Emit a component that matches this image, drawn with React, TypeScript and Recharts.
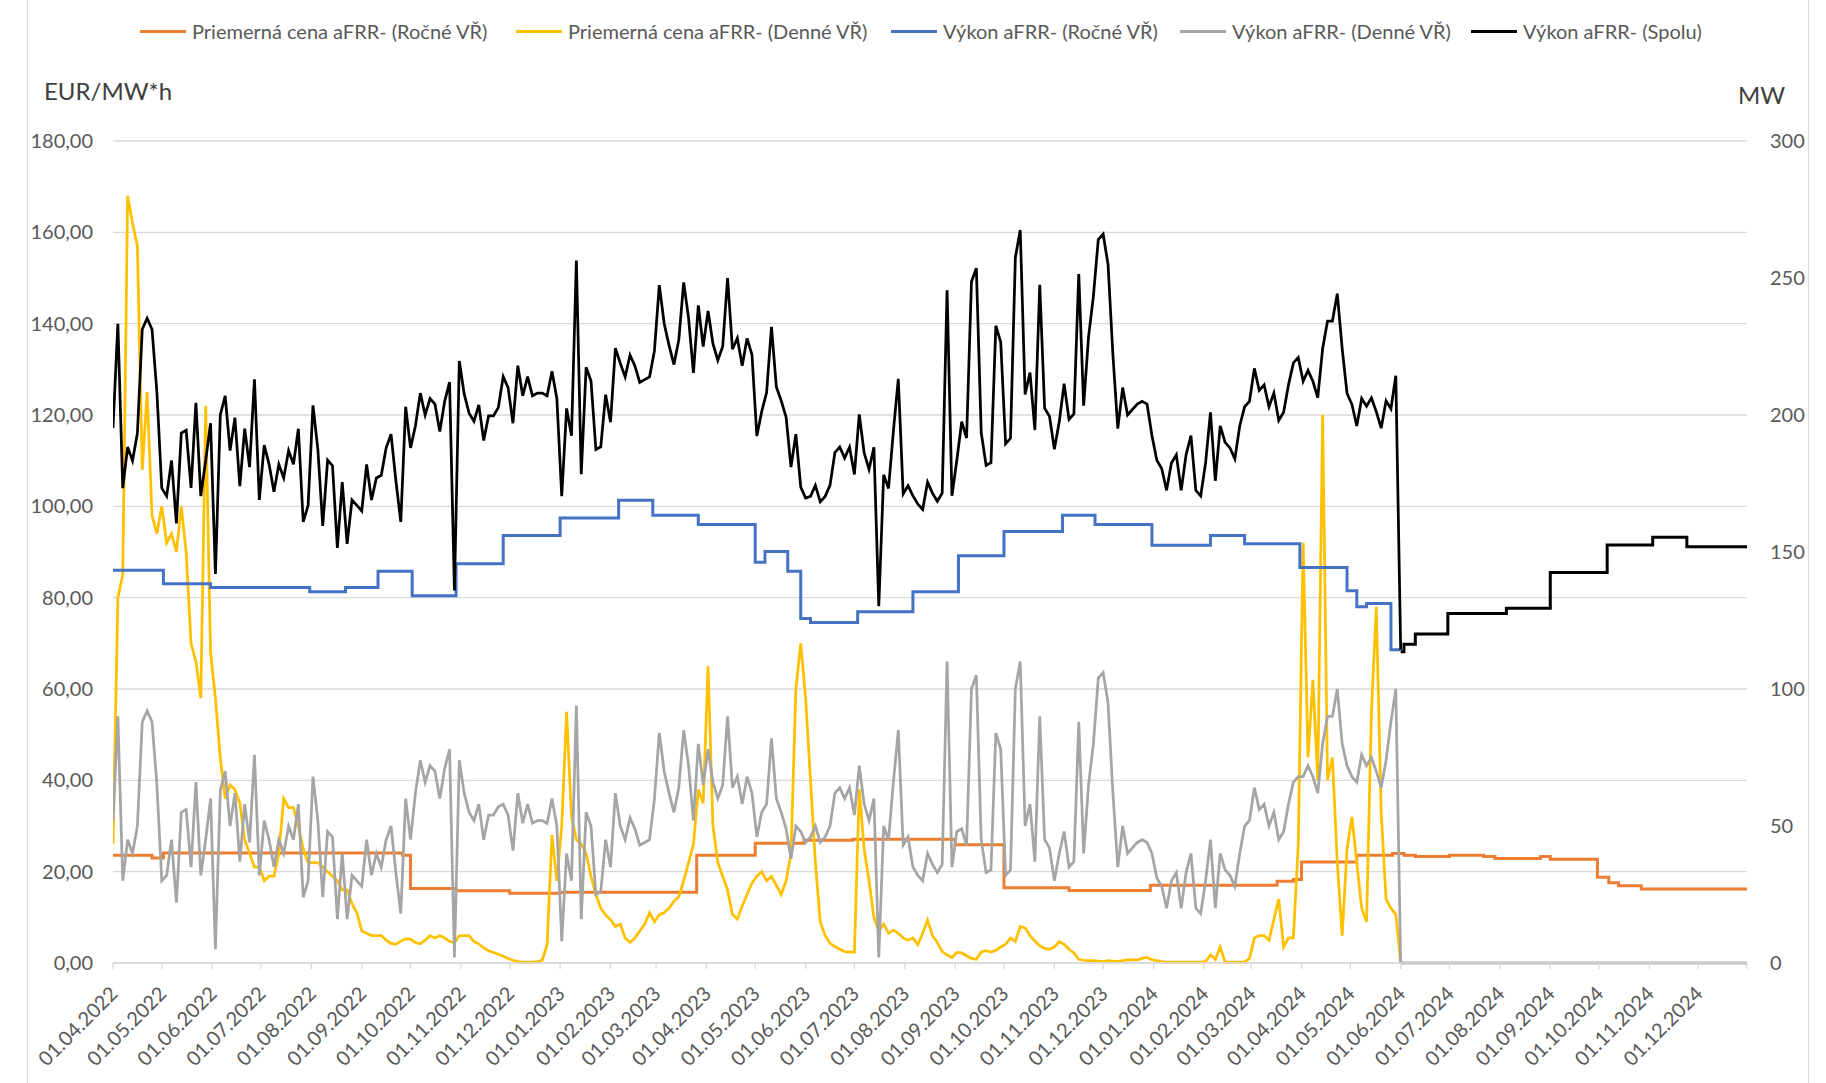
import { LineChart, Line, XAxis, YAxis, CartesianGrid } from 'recharts'

// day 0 = 01.04.2022, the daily series are read every GRID_STEP days
const START = Date.UTC(2022, 3, 1)
const DAY_MS = 86400000
const GRID_STEP = 3
const LAST_DAY = 1005

// Výkon aFRR- (Denné VŘ), MW, every 3 days up to 01.06.2024
const grayMW = [
  52, 90, 30, 45, 40, 50, 88, 92, 88, 65, 30, 32, 45, 22, 55, 56, 35, 66, 32, 45,
  60, 5, 63, 70, 50, 62, 37, 58, 44, 76, 32, 52, 45, 35, 45, 40, 50, 45, 58, 24,
  30, 68, 52, 24, 48, 46, 16, 40, 16, 32, 30, 28, 45, 32, 40,
  35, 45, 50, 33, 18, 60, 45, 62, 74, 66, 72, 70, 60, 71, 78, 2, 74, 62, 55, 52,
  58, 45, 54, 54, 57, 58, 54, 41, 62, 51, 58, 51, 52, 52, 51, 60, 50, 8, 40, 30,
  94, 16, 55, 50, 25, 26, 45, 35, 62, 50, 45, 53, 49, 43, 44, 45,
  60, 84, 70, 62, 55, 64, 85, 72, 52, 80, 65, 78, 66, 60, 65, 90, 64, 68, 58, 68,
  62, 46, 55, 58, 82, 60, 55, 49, 38, 50, 48, 44, 46, 50, 44, 46, 50, 62, 64, 60,
  64, 54, 72, 58, 52, 60, 2, 50, 45, 66, 85, 43, 46, 35, 32,
  30, 40, 36, 33, 36, 110, 35, 48, 49, 43, 100, 105, 45, 33, 34, 84, 78, 32, 34, 100,
  110, 50, 58, 37, 90, 45, 42, 30, 40, 48, 35, 37, 88, 40, 65, 80, 104, 106, 95, 62,
  35, 50, 40, 42, 44, 45, 44, 40, 31, 28, 20, 30, 33, 20, 33,
  40, 20, 18, 30, 45, 20, 40, 34, 32, 28, 40, 50, 52, 64, 56, 58, 50, 55, 45, 48,
  58, 66, 68, 68, 72, 68, 62, 80, 90, 90, 100, 80, 72, 68, 66, 76, 72, 75, 70, 64,
  74, 88, 100, 0,
]

// Priemerná cena aFRR- (Denné VŘ), EUR/MW*h, every 3 days up to 01.06.2024
const yellowEUR = [
  26, 80, 85, 168, 162, 157, 108, 125, 98, 94, 100, 92, 94, 90, 100, 90, 70, 66, 58, 122,
  68, 58, 45, 36, 39, 38, 35, 27, 24, 21, 21, 18, 19, 19, 24, 36, 34, 34, 30, 25,
  22, 22, 22, 21, 20, 19, 18, 16, 16, 13, 11, 7, 6.5, 6, 6,
  6, 5, 4.3, 4.1, 4.8, 5.3, 5.2, 4.5, 4.2, 5, 6, 5.5, 6, 5.5, 4.7, 4.5, 6, 6, 6, 4.7,
  4.2, 3.3, 2.7, 2.3, 1.9, 1.5, 1, 0.6, 0.3, 0.2, 0.2, 0.2, 0.3, 0.6, 4, 28, 18, 30, 55, 32,
  27, 26, 24, 19, 15, 12, 10.5, 9.5, 8, 8.5, 5.5, 4.5, 5.5, 7, 8.5, 11,
  9, 10.6, 11, 12, 13.5, 14.5, 18, 22, 26, 38, 35, 65, 30, 22, 19, 16, 10.6, 9.6, 12.5, 15,
  17.5, 19, 20, 18, 19, 17, 15, 18, 24, 60, 70, 58, 40, 22, 9, 6, 4.3, 3.6, 3, 2.5,
  2.4, 2.4, 38, 25, 18, 10, 7, 8.5, 6.5, 7.2, 6.5, 5.5, 5, 5.5, 4,
  6.5, 9.4, 6, 4.5, 2.5, 1.8, 1.2, 2.3, 2.2, 1.6, 1, 0.8, 2.4, 2.7, 2.4, 2.8, 3.5, 4.1, 5.5, 4.7,
  8, 7.7, 6, 4.8, 3.8, 3.2, 3, 3.5, 4.7, 4.1, 3, 2.2, 0.8, 0.6, 0.5, 0.5, 0.4, 0.3, 0.5, 0.4,
  0.3, 0.5, 0.7, 0.7, 0.7, 1, 1.2, 0.7, 0.5, 0.3, 0.2, 0.2, 0.2, 0.2, 0.2,
  0.2, 0.2, 0.2, 0.3, 1.8, 0.8, 3.5, 0.2, 0.2, 0.2, 0.2, 0.2, 1, 5.5, 6, 6, 5, 9.5, 14, 3.5,
  5.5, 5.5, 26, 92, 45, 62, 40, 120, 40, 45, 22, 6, 25, 32, 22, 12, 9, 55, 78, 33,
  14, 12, 10.6, 0,
]

// Výkon aFRR- (Ročné VŘ), MW: [day, value] steps
const blueSteps: [number, number][] = [
  [0, 143.3], [31, 138.4], [60, 137], [121, 135.5], [143, 137], [163, 143], [184, 134],
  [211, 145.7], [240, 156], [275, 162.4], [311, 168.9], [332, 163.4], [360, 160],
  [395, 146.3], [401, 150.2], [415, 143], [423, 125.7], [429, 124.3], [458, 128.2],
  [492, 135.5], [520, 148.6], [548, 157.5], [584, 163.4], [604, 160], [639, 152.5],
  [675, 156], [696, 153], [730, 144.3], [759, 135.9], [765, 130], [771, 131.2],
  [786, 114.3], [792, 114.3],
]

// Priemerná cena aFRR- (Ročné VŘ), EUR/MW*h: [day, value] steps
const orangeSteps: [number, number][] = [
  [0, 23.6], [24, 23], [31, 24.1], [178, 23.6], [183, 16.3], [211, 15.8], [244, 15.3],
  [275, 15.5], [359, 23.6], [395, 26.2], [425, 26.9], [455, 27.1], [518, 25.9],
  [548, 16.5], [588, 15.9], [638, 17], [716, 17.9], [726, 18.3], [731, 22.1],
  [765, 23.6], [787, 24], [794, 23.6], [801, 23.3], [822, 23.6], [843, 23.3],
  [850, 22.9], [878, 23.3], [884, 22.7], [913, 18.8], [920, 17.6], [926, 16.9],
  [940, 16.2], [1005, 16.2],
]

// Výkon aFRR- (Spolu) after 01.06.2024 (only the annual part is left), MW
const blackTailSteps: [number, number][] = [
  [792, 113.6], [794, 116.3], [801, 120.1], [821, 127.6], [857, 129.5], [884, 142.5],
  [919, 152.6], [947, 155.4], [968, 151.9], [1005, 151.9],
]

// daily MW after 01.06.2024
const grayTail: [number, number][] = [[792, 0], [1005, 0]]

const leftTicks = [0, 20, 40, 60, 80, 100, 120, 140, 160, 180]
const rightTicks = [0, 50, 100, 150, 200, 250, 300]

const legendItems = [
  { name: 'Priemerná cena aFRR- (Ročné VŘ)', color: '#ED7D31', x: 140 },
  { name: 'Priemerná cena aFRR- (Denné VŘ)', color: '#FFC000', x: 516 },
  { name: 'Výkon aFRR- (Ročné VŘ)', color: '#4472C4', x: 891 },
  { name: 'Výkon aFRR- (Denné VŘ)', color: '#A5A5A5', x: 1180 },
  { name: 'Výkon aFRR- (Spolu)', color: '#000000', x: 1471 },
]

const monthTicks: number[] = []
for (let k = 0; k < 33; k++) {
  monthTicks.push(Math.round((Date.UTC(2022, 3 + k, 1) - START) / DAY_MS))
}

const pad = (n: number) => String(n).padStart(2, '0')
const fmtDate = (day: number) => {
  const d = new Date(START + day * DAY_MS)
  return `${pad(d.getUTCDate())}.${pad(d.getUTCMonth() + 1)}.${d.getUTCFullYear()}`
}

const toPoints = (pairs: [number, number][]) => pairs.map(([day, v]) => ({ day, v }))
const sampled = (values: number[]) => values.map((v, i) => ({ day: i * GRID_STEP, v }))

const blueAt = (day: number) => {
  let v = blueSteps[0][1]
  for (const [d, val] of blueSteps) if (d <= day) v = val
  return v
}

// Spolu = ročné + denné
const blackMain = grayMW.map((g, i) => ({
  day: i * GRID_STEP,
  v: Math.round((blueAt(i * GRID_STEP) + g) * 10) / 10,
}))

const FONT = 'Lato, "Open Sans", sans-serif'
const TICK_COLOR = '#595959'

const XTick = ({ x, y, payload }: any) => {
  if (payload.value >= LAST_DAY) return <g />
  const ax = x + 6
  const ay = y + 24
  return (
    <text x={ax} y={ay} transform={`rotate(-45 ${ax} ${ay})`} textAnchor="end" fill={TICK_COLOR} fontSize={20} fontFamily={FONT}>
      {fmtDate(payload.value)}
    </text>
  )
}

export default function App() {
  return (
    <div style={{ position: 'fixed', left: 0, top: 0, width: 1826, height: 1083, background: '#fff', fontFamily: FONT, overflow: 'hidden' }}>
      <div style={{ position: 'absolute', left: 27, top: 0, width: 1780, height: 1083, borderLeft: '1px solid #d9d9d9', borderRight: '1px solid #d9d9d9' }} />

      {legendItems.map((it) => (
        <div key={it.name} style={{ position: 'absolute', left: it.x, top: 18, height: 26, display: 'flex', alignItems: 'center', whiteSpace: 'nowrap' }}>
          <span style={{ display: 'inline-block', width: 46, height: 3, background: it.color, marginRight: 6 }} />
          <span style={{ fontSize: 20, color: TICK_COLOR }}>{it.name}</span>
        </div>
      ))}

      <div style={{ position: 'absolute', left: 44, top: 76, fontSize: 24, color: '#404040' }}>EUR/MW*h</div>
      <div style={{ position: 'absolute', left: 1738, top: 80, fontSize: 24, color: '#404040' }}>MW</div>

      <LineChart width={1826} height={1083} margin={{ top: 141, right: 20, bottom: 0, left: 20 }} style={{ position: 'absolute', left: 0, top: 0 }}>
        <CartesianGrid yAxisId="left" vertical={false} stroke="#d9d9d9" strokeWidth={1.3} />
        <XAxis
          type="number"
          dataKey="day"
          domain={[0, LAST_DAY]}
          ticks={[...monthTicks, LAST_DAY]}
          interval={0}
          allowDataOverflow
          height={120}
          tick={<XTick />}
          tickSize={6}
          axisLine={{ stroke: '#d9d9d9', strokeWidth: 1.3 }}
          tickLine={{ stroke: '#d9d9d9', strokeWidth: 1.3 }}
        />
        <YAxis
          yAxisId="left"
          domain={[0, 180]}
          ticks={leftTicks}
          width={93}
          axisLine={false}
          tickLine={false}
          tickSize={0}
          tickMargin={20}
          tickFormatter={(v: number) => v.toFixed(2).replace('.', ',')}
          tick={{ fill: TICK_COLOR, fontSize: 20, fontFamily: FONT }}
        />
        <YAxis
          yAxisId="right"
          orientation="right"
          domain={[0, 300]}
          ticks={rightTicks}
          width={59}
          axisLine={false}
          tickLine={false}
          tickSize={0}
          tickMargin={23}
          tick={{ fill: TICK_COLOR, fontSize: 20, fontFamily: FONT }}
        />

        <Line yAxisId="left" data={toPoints(orangeSteps)} dataKey="v" type="stepAfter" stroke="#ED7D31" strokeWidth={3} dot={false} isAnimationActive={false} />
        <Line yAxisId="left" data={sampled(yellowEUR)} dataKey="v" type="linear" stroke="#FFC000" strokeWidth={2.75} dot={false} isAnimationActive={false} />
        <Line yAxisId="right" data={toPoints(blueSteps)} dataKey="v" type="stepAfter" stroke="#4472C4" strokeWidth={3} dot={false} isAnimationActive={false} />
        <Line yAxisId="right" data={sampled(grayMW)} dataKey="v" type="linear" stroke="#A5A5A5" strokeWidth={2.75} dot={false} isAnimationActive={false} />
        <Line yAxisId="right" data={toPoints(grayTail)} dataKey="v" type="linear" stroke="#A5A5A5" strokeWidth={3} dot={false} isAnimationActive={false} />
        <Line yAxisId="right" data={blackMain} dataKey="v" type="linear" stroke="#000000" strokeWidth={2.75} dot={false} isAnimationActive={false} />
        <Line yAxisId="right" data={toPoints(blackTailSteps)} dataKey="v" type="stepAfter" stroke="#000000" strokeWidth={3} dot={false} isAnimationActive={false} />
      </LineChart>
    </div>
  )
}
